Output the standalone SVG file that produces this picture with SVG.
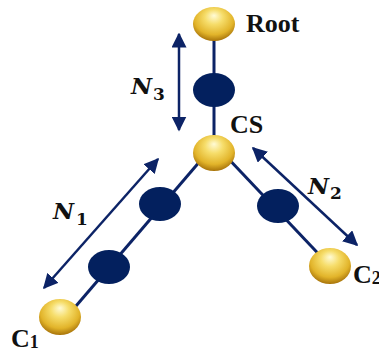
<svg xmlns="http://www.w3.org/2000/svg" width="379" height="352" viewBox="0 0 379 352">
<style>
.edge{stroke:#0c2366;stroke-width:3;fill:none}
.dim{stroke:#0c2366;stroke-width:2.5;fill:none;marker-start:url(#ah);marker-end:url(#ah)}
.ball{fill:url(#gold)}
.dot{fill:#03205e}
.lbl{font-family:"Liberation Serif",serif;font-weight:bold;font-size:26px;fill:#111}
.sub{font-family:"Liberation Serif",serif;font-weight:bold;font-size:18px;fill:#111}
.nlbl{font-family:"DejaVu Serif",serif;font-weight:bold;font-style:italic;font-size:23px;fill:#111}
.nsub{font-family:"DejaVu Serif",serif;font-weight:bold;font-style:normal;font-size:17px;fill:#111}
</style>
<defs>
<radialGradient id="gold" cx="50%" cy="38%" r="62%" fx="50%" fy="25%">
<stop offset="0" stop-color="#fffbd6"/>
<stop offset="0.35" stop-color="#f6dd6a"/>
<stop offset="0.75" stop-color="#e2b42a"/>
<stop offset="1" stop-color="#a8740a"/>
</radialGradient>
<marker id="ah" viewBox="0 0 10 10" refX="9" refY="5" markerWidth="6" markerHeight="6" orient="auto-start-reverse">
<path d="M0,0 L10,5 L0,10 z" fill="#0c2366"/>
</marker>
</defs>
<g id="connectors">
<line class="edge" x1="214" y1="24" x2="214" y2="153"/>
<line class="edge" x1="207" y1="153" x2="70" y2="313"/>
<line class="edge" x1="223" y1="153" x2="330" y2="266"/>
<line class="dim" x1="179" y1="34" x2="179" y2="130"/>
<line class="dim" x1="44" y1="288" x2="158" y2="159"/>
<line class="dim" x1="253" y1="148" x2="357" y2="245"/>
</g>
<g id="root"><ellipse class="ball" cx="214" cy="24" rx="21" ry="17"/><text class="lbl" x="246" y="32">Root</text></g>
<g id="m1"><ellipse class="dot" cx="214" cy="90" rx="21" ry="17"/></g>
<g id="cs"><ellipse class="ball" cx="214" cy="153" rx="21" ry="18"/><text class="lbl" x="230" y="133">CS</text></g>
<g id="m2"><ellipse class="dot" cx="160" cy="204" rx="21" ry="17"/></g>
<g id="m3"><ellipse class="dot" cx="109" cy="267" rx="21" ry="17"/></g>
<g id="m4"><ellipse class="dot" cx="278" cy="206" rx="21" ry="17"/></g>
<g id="c1"><ellipse class="ball" cx="60" cy="317" rx="21" ry="18"/><text class="lbl" x="11" y="347">C<tspan class="sub" dy="1">1</tspan></text></g>
<g id="c2"><ellipse class="ball" cx="330" cy="266" rx="21" ry="18"/><text class="lbl" x="353" y="283">C<tspan class="sub" dy="1">2</tspan></text></g>
<g id="n3"><text class="nlbl" x="131" y="94">N<tspan class="nsub" dx="1" dy="6">3</tspan></text></g>
<g id="n1"><text class="nlbl" x="53" y="219">N<tspan class="nsub" dx="2" dy="6">1</tspan></text></g>
<g id="n2"><text class="nlbl" x="308" y="194">N<tspan class="nsub" dx="1" dy="5">2</tspan></text></g>
</svg>
